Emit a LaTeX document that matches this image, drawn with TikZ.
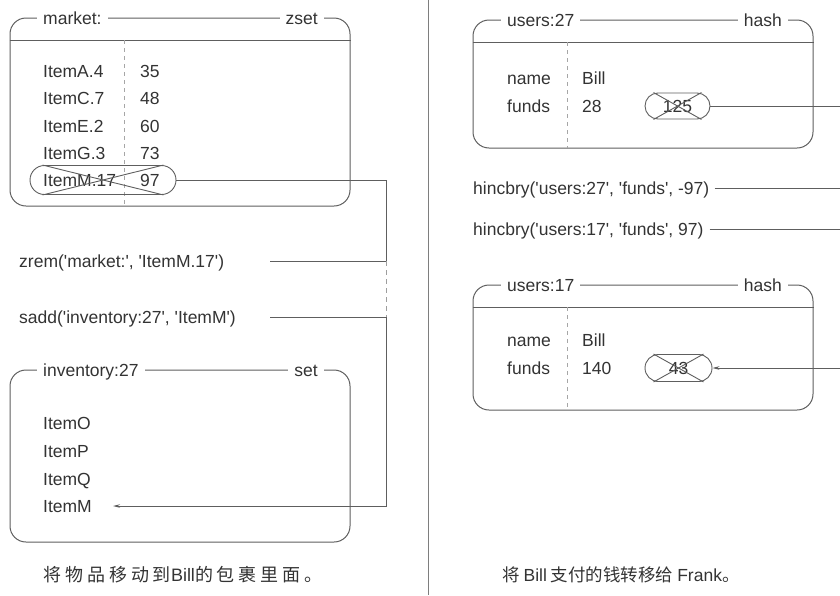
\documentclass[tikz,border=0pt]{standalone}
\usepackage{fontspec}
\newfontfamily\plainsans{Liberation Sans}
\newfontfamily\cjk{Noto Sans CJK SC}
\newfontfamily\cjkwide[LetterSpace=22]{Noto Sans CJK SC}
\usetikzlibrary{arrows.meta}
\definecolor{ink}{HTML}{333333}
\definecolor{wire}{HTML}{5e5e5e}

\begin{document}
\begin{tikzpicture}[x=1pt, y=-1pt, font=\plainsans\fontsize{17.5}{20}\selectfont, text=ink,
    box/.style={draw=wire, line width=1pt, rounded corners=16pt, minimum width=340pt, inner sep=0pt},
    title/.style={fill=white, inner xsep=6pt, inner ysep=1pt, text height=12.6pt, text depth=0pt},
    cell/.style={anchor=west, inner sep=0pt, text height=12.6pt, text depth=0pt},
    pill/.style={draw=wire, line width=0.9pt, inner sep=0pt},
    wire/.style={draw=wire, line width=0.9pt},
    divide/.style={draw=wire!55, line width=0.6pt, dash pattern=on 4pt off 4pt},
    tip/.style={-{Stealth[length=7pt, width=3.5pt]}}]
  \useasboundingbox (0,0) rectangle (840,595);

  % left half: move ItemM into the inventory
  \node[box, minimum height=188pt] (market) at (180,112) {};
  \node[title, anchor=west] (mname) at (37,18) {market:};
  \node[title, anchor=east] (mtype) at (324,18) {zset};
  \draw[wire] (market.west |- 0,40) -- (market.east |- 0,40);
  \draw[divide] (124,40) -- (124,206);
  \node[cell] (ka) at (43,71) {ItemA.4};   \node[cell] (va) at (140,71) {35};
  \node[cell] (kc) at (43,98) {ItemC.7};   \node[cell] (vc) at (140,98) {48};
  \node[cell] (ke) at (43,126) {ItemE.2};  \node[cell] (ve) at (140,126) {60};
  \node[cell] (kg) at (43,153) {ItemG.3};  \node[cell] (vg) at (140,153) {73};
  \node[cell] (km) at (43,180) {ItemM.17}; \node[cell] (vm) at (140,180) {97};
  \node[pill, rounded corners=14.5pt, minimum width=146pt, minimum height=29pt] (gone) at (103,180) {};
  \draw[wire] ([xshift=13pt]gone.north west) -- ([xshift=-13pt]gone.south east);
  \draw[wire] ([xshift=13pt]gone.south west) -- ([xshift=-13pt]gone.north east);

  \node[cell] (zrem) at (19,261) {zrem('market:', 'ItemM.17')};
  \node[cell] (sadd) at (19,317) {sadd('inventory:27', 'ItemM')};
  \coordinate (z0) at (270,261);
  \coordinate (s0) at (270,317);
  \coordinate (c1) at (386,261);
  \coordinate (c2) at (386,317);

  \node[box, minimum height=172pt] (inv) at (180,456) {};
  \node[title, anchor=west] (iname) at (37,370) {inventory:27};
  \node[title, anchor=east] (itype) at (324,370) {set};
  \node[cell] (io) at (43,423) {ItemO};
  \node[cell] (ip) at (43,451) {ItemP};
  \node[cell] (iq) at (43,479) {ItemQ};
  \node[cell] (im) at (43,506) {ItemM};

  \draw[wire] (gone.east) -| (c1);
  \draw[wire] (z0) -- (c1);
  \draw[wire, dash pattern=on 5pt off 4pt, draw=wire!60] (c1) -- (c2);
  \draw[wire, tip] (s0) -- (c2) |- ([xshift=21pt]im.east);

  \node[cell, font=\cjkwide\fontsize{18}{20}\selectfont] (capl) at (43,575) {将物品移动到{\plainsans Bill}的包裹里面。};

  % middle rule
  \draw[wire, draw=wire!80] (428,0) -- (428,595);

  % right half: Bill pays Frank
  \node[box, minimum height=128pt] (u27) at (643,84) {};
  \node[title, anchor=west] (aname) at (501,20) {users:27};
  \node[title, anchor=east] (atype) at (788,20) {hash};
  \draw[wire] (u27.west |- 0,42) -- (u27.east |- 0,42);
  \draw[divide] (567,42) -- (567,148);
  \node[cell] (an) at (507,78) {name};  \node[cell] (av) at (582,78) {Bill};
  \node[cell] (af) at (507,106) {funds}; \node[cell] (aw) at (582,106) {28};
  \node[pill, rounded corners=13pt, minimum width=65pt, minimum height=26pt] (p125) at (677.5,106) {125};
  \draw[wire] ([xshift=9pt]p125.north west) -- ([xshift=-9pt]p125.south east);
  \draw[wire] ([xshift=9pt]p125.south west) -- ([xshift=-9pt]p125.north east);

  \node[cell] (h27) at (473,188) {hincbry('users:27', 'funds', -97)};
  \node[cell] (h17) at (473,229) {hincbry('users:17', 'funds', 97)};
  \coordinate (r1) at (840,106);
  \coordinate (r2) at (840,188);
  \coordinate (r3) at (840,229);
  \coordinate (r4) at (840,368);

  \node[box, minimum height=125pt] (u17) at (643,347.5) {};
  \node[title, anchor=west] (bname) at (501,285) {users:17};
  \node[title, anchor=east] (btype) at (788,285) {hash};
  \draw[wire] (u17.west |- 0,307) -- (u17.east |- 0,307);
  \draw[divide] (567,307) -- (567,410);
  \node[cell] (bn) at (507,340) {name};  \node[cell] (bv) at (582,340) {Bill};
  \node[cell] (bf) at (507,368) {funds}; \node[cell] (bw) at (582,368) {140};
  \node[pill, rounded corners=13.5pt, minimum width=67pt, minimum height=27pt] (p43) at (678.5,368) {43};
  \draw[wire] ([xshift=9pt]p43.north west) -- ([xshift=-9pt]p43.south east);
  \draw[wire] ([xshift=9pt]p43.south west) -- ([xshift=-9pt]p43.north east);

  \draw[wire] (p125.east) -- (r1);
  \draw[wire] ([xshift=5pt]h27.east) -- (r2);
  \draw[wire] ([xshift=6pt]h17.east) -- (r3);
  \draw[wire, tip] (r4) -- (p43.east);

  \node[cell, font=\cjk\fontsize{17.5}{20}\selectfont] (capr) at (502,575) {将 {\plainsans Bill} 支付的钱转移给 {\plainsans Frank}。};
\end{tikzpicture}
\end{document}
